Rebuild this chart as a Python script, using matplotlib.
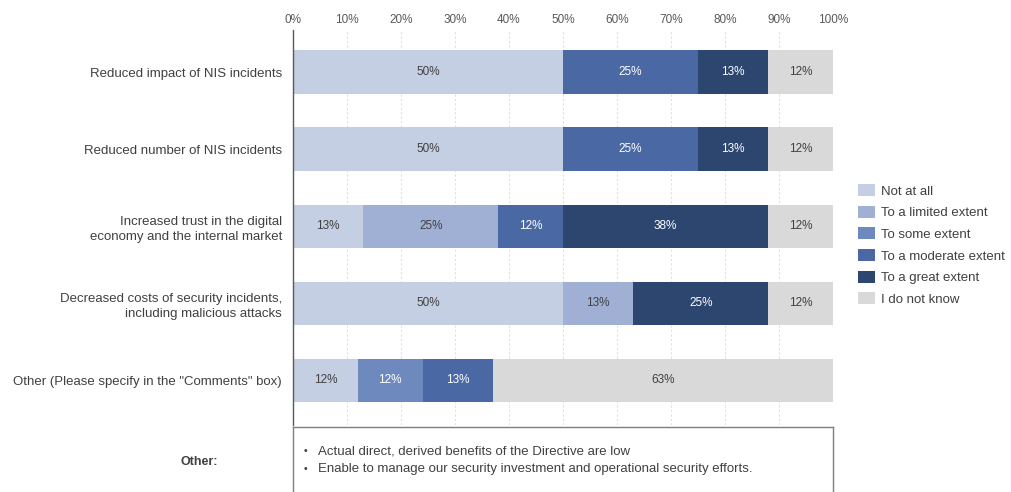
import matplotlib
matplotlib.use("Agg")
import matplotlib.pyplot as plt
import numpy as np

plt.rcParams['font.family'] = ['Liberation Sans', 'DejaVu Sans']

categories = [
    "Reduced impact of NIS incidents",
    "Reduced number of NIS incidents",
    "Increased trust in the digital\neconomy and the internal market",
    "Decreased costs of security incidents,\nincluding malicious attacks",
    "Other (Please specify in the \"Comments\" box)",
]
series_names = ["Not at all", "To a limited extent", "To some extent",
                "To a moderate extent", "To a great extent", "I do not know"]
not_at_all = [50, 50, 13, 50, 12]
limited = [0, 0, 25, 13, 0]
some = [0, 0, 0, 0, 12]
moderate = [25, 25, 12, 0, 13]
great = [13, 13, 38, 25, 0]
dont_know = [12, 12, 12, 12, 63]
xticks = [0, 10, 20, 30, 40, 50, 60, 70, 80, 90, 100]
other_comments = [
    "Actual direct, derived benefits of the Directive are low",
    "Enable to manage our security investment and operational security efforts.",
]

colors = ["#c5cfe3", "#9fb0d4", "#6e89bd", "#4a69a4", "#2c4670", "#d9d9d9"]
text_colors = ["#404040", "#404040", "white", "white", "white", "#404040"]

W, H = 1012, 492
fig = plt.figure(figsize=(W / 100, H / 100), dpi=100)
ax = fig.add_axes([293 / W, 1 - 425 / H, 540 / W, 395 / H])

data = [not_at_all, limited, some, moderate, great, dont_know]
y = np.arange(len(categories))
left = np.zeros(len(categories))
for vals, name, c, tc in zip(data, series_names, colors, text_colors):
    vals = np.array(vals, dtype=float)
    ax.barh(y, vals, left=left, height=0.56, color=c, label=name, zorder=2)
    for yi, (l, v) in enumerate(zip(left, vals)):
        if v > 0:
            ax.text(l + v / 2, yi, f"{int(v)}%", ha="center", va="center",
                    fontsize=8.5, color=tc, zorder=3)
    left += vals

ax.set_xlim(0, 100)
ax.set_ylim(4.58, -0.545)
ax.set_xticks(xticks)
ax.set_xticklabels([f"{t}%" for t in xticks], fontsize=8.5, color="#595959")
ax.xaxis.tick_top()
ax.tick_params(axis="x", length=0, pad=3)
ax.set_yticks(y)
ax.set_yticklabels(categories, fontsize=9.5, color="#404040", linespacing=1.35)
ax.tick_params(axis="y", length=0, pad=8)
for lbl in ax.get_yticklabels():
    lbl.set_horizontalalignment("right")
ax.grid(axis="x", color="#e0e0e0", linewidth=0.8, linestyle=(0, (2, 2)), zorder=0)
for s in ["top", "right", "bottom"]:
    ax.spines[s].set_visible(False)
ax.spines["left"].set_color("#595959")
ax.spines["left"].set_linewidth(1.0)

handles, labels = ax.get_legend_handles_labels()
fig.legend(handles, labels, loc="upper left", bbox_to_anchor=(853 / W, 1 - 179 / H),
           frameon=False, fontsize=9.5, handlelength=1.3, handleheight=1.0,
           labelspacing=0.62, handletextpad=0.4, borderaxespad=0,
           labelcolor="#404040")

# Comment box
bx = fig.add_axes([293 / W, -0.05, 540 / W, (1 - 427 / H) + 0.05])
bx.set_xticks([])
bx.set_yticks([])
for s in bx.spines.values():
    s.set_color("#7f7f7f")
    s.set_linewidth(1.0)
bx.set_xlim(0, 540)
bx.set_ylim(492 + 0.05 * H, 427)
for i, line in enumerate(other_comments):
    yy = 451 + i * 18
    bx.text(11, yy, "•", fontsize=7.5, va="center", ha="left", color="#404040")
    bx.text(25, yy, line, fontsize=9.5, va="center", ha="left", color="#404040")

fig.text(218 / W, 1 - 462 / H, "Other:", fontsize=9, ha="right", va="center",
         color="#404040", fontweight="bold")

fig.savefig("out.png", dpi=100)
